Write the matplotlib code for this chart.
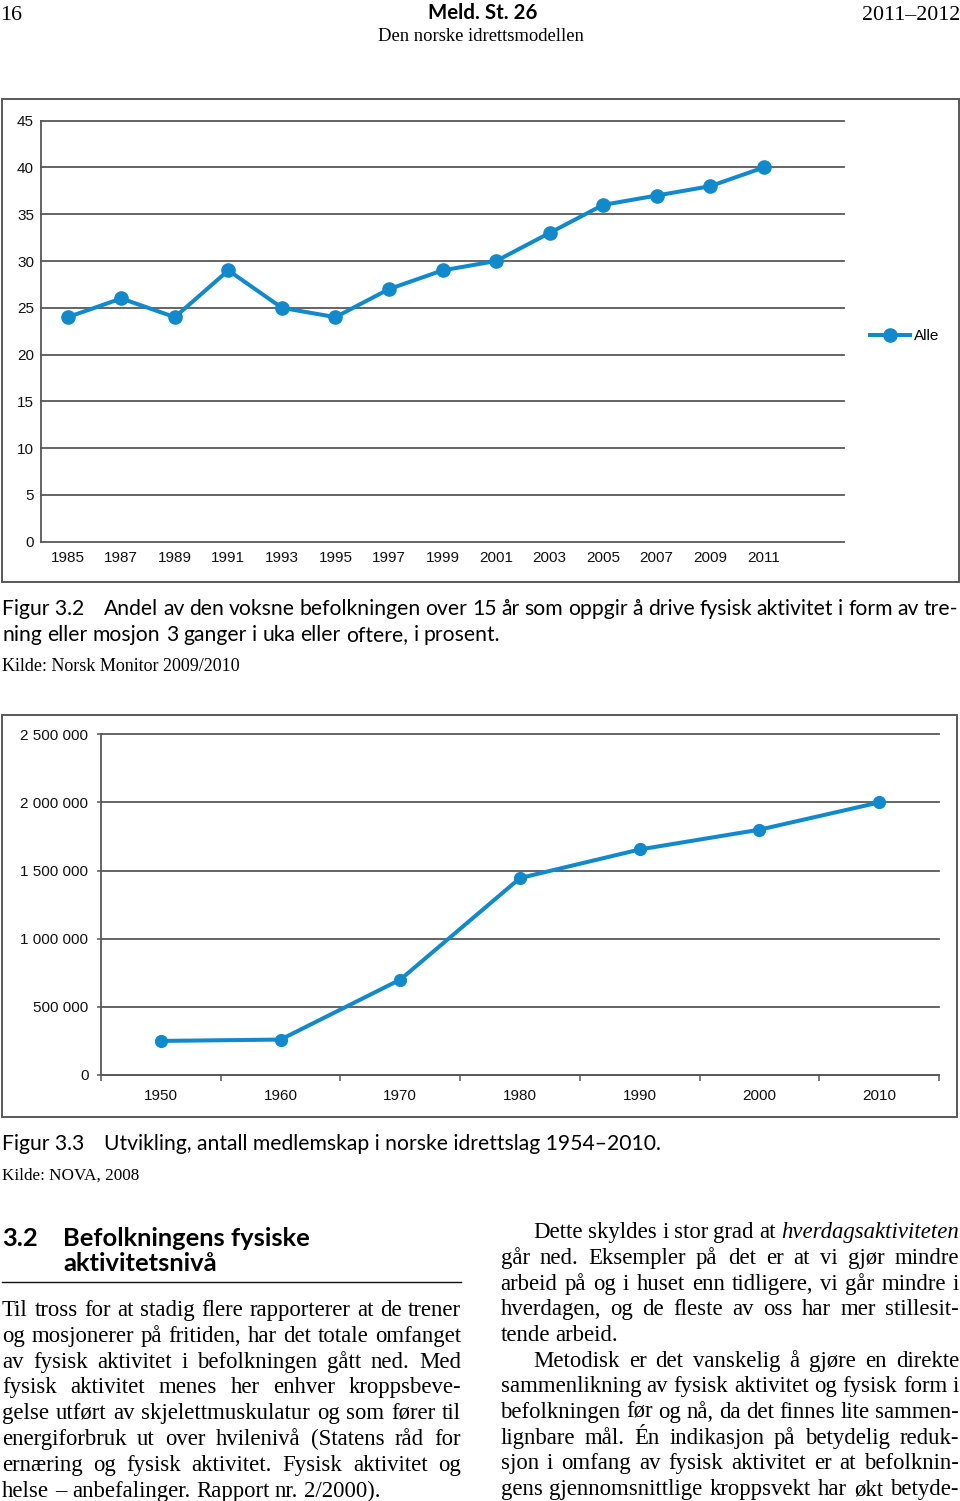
import matplotlib
matplotlib.use('Agg')
import matplotlib.pyplot as plt
from matplotlib.patches import Rectangle
from matplotlib.lines import Line2D
from matplotlib.ticker import FuncFormatter

W, H = 960, 1501

# figur 3.2 - andel fysisk aktive (prosent)
aar = ['1985', '1987', '1989', '1991', '1993', '1995', '1997',
       '1999', '2001', '2003', '2005', '2007', '2009', '2011']
andel = [24, 26, 24, 29, 25, 24, 27, 29, 30, 33, 36, 37, 38, 40]
andel_ticks = [0, 5, 10, 15, 20, 25, 30, 35, 40, 45]

# figur 3.3 - medlemskap i idrettslag
tiaar = ['1950', '1960', '1970', '1980', '1990', '2000', '2010']
medlemmer = [250000, 260000, 700000, 1445000, 1655000, 1800000, 2000000]
medlem_ticks = [0, 500000, 1000000, 1500000, 2000000, 2500000]

# brødtekst (linjer som i originalen)
venstre = [
    "Til tross for at stadig flere rapporterer at de trener",
    "og mosjonerer på fritiden, har det totale omfanget",
    "av fysisk aktivitet i befolkningen gått ned. Med",
    "fysisk aktivitet menes her enhver kroppsbeve-",
    "gelse utført av skjelettmuskulatur og som fører til",
    "energiforbruk ut over hvilenivå (Statens råd for",
    "ernæring og fysisk aktivitet. Fysisk aktivitet og",
    "helse – anbefalinger. Rapport nr. 2/2000).",
]
hoyre = [
    "Dette skyldes i stor grad at *hverdagsaktiviteten",
    "går ned. Eksempler på det er at vi gjør mindre",
    "arbeid på og i huset enn tidligere, vi går mindre i",
    "hverdagen, og de fleste av oss har mer stillesit-",
    "tende arbeid.",
    "Metodisk er det vanskelig å gjøre en direkte",
    "sammenlikning av fysisk aktivitet og fysisk form i",
    "befolkningen før og nå, da det finnes lite sammen-",
    "lignbare mål. Én indikasjon på betydelig reduk-",
    "sjon i omfang av fysisk aktivitet er at befolknin-",
    "gens gjennomsnittlige kroppsvekt har økt betyde-",
]
hoyre_innrykk = [0, 5]      # linjer med innrykk
hoyre_slutt = [4]           # siste linje i avsnitt (ikke blokkjustert)

BLA = '#1089cd'
GRA = '#585858'
SERIF = ['Liberation Serif', 'DejaVu Serif']
SANS = ['Lato', 'DejaVu Sans']
ARIAL = ['Liberation Sans', 'DejaVu Sans']

fig = plt.figure(figsize=(W / 100, H / 100), dpi=100)
r = fig.canvas.get_renderer()


def boks(x0, y0, x1, y1):  # piksler fra øvre venstre hjørne
    return [x0 / W, 1 - y1 / H, (x1 - x0) / W, (y1 - y0) / H]


def tekst(x, y, s, ha='left', **kw):
    return fig.text(x / W, 1 - y / H, s, ha=ha, va='baseline', **kw)


def bredde(t):
    return t.get_window_extent(renderer=r).width


def tilpass(x0, x1, y, s, ha='left', **kw):
    # finn skriftstørrelse slik at teksten blir x1-x0 bred
    t = tekst(x0 if ha == 'left' else (x0 + x1) / 2 if ha == 'center' else x1,
              y, s, ha=ha, fontsize=10, **kw)
    size = 10 * (x1 - x0) / bredde(t)
    t.set_fontsize(size)
    return t, size


def linje(x0, x1, y, s, size, family, just=True):
    ord_ = s.split()
    ts = []
    for w in ord_:
        st = 'normal'
        if w.startswith('*'):
            w, st = w[1:], 'italic'
        ts.append(tekst(0, y, w, fontsize=size, family=family, style=st))
    bs = [bredde(t) for t in ts]
    em = size * 100 / 72
    mellom = 0.25 * em
    if just and len(ts) > 1:
        mellom = (x1 - x0 - sum(bs)) / (len(ts) - 1)
        if mellom < 0.15 * em:   # for trangt: krymp litt
            f = (x1 - x0) / (sum(bs) + (len(ts) - 1) * 0.15 * em)
            for t in ts:
                t.set_fontsize(size * f)
            bs = [bredde(t) for t in ts]
            mellom = (x1 - x0 - sum(bs)) / (len(ts) - 1)
    x = x0
    for t, b in zip(ts, bs):
        t.set_x(x / W)
        x += b + mellom


# ---------- topptekst ----------
tilpass(0, 22, 20, '16', family=SERIF)
tilpass(428, 538, 19, 'Meld. St. 26', ha='center', family=SANS, weight='bold')
tilpass(862, 960, 20, '2011–2012', ha='right', family=SERIF)
tilpass(378, 584, 41, 'Den norske idrettsmodellen', ha='center', family=SERIF)

# ---------- figur 3.2 ----------
fig.add_artist(Rectangle((2 / W, 1 - 582.5 / H), 956.5 / W, 483.5 / H,
                         transform=fig.transFigure, fill=False,
                         edgecolor=GRA, lw=1.4))
ax1 = fig.add_axes(boks(41, 120.7, 844, 541.7))
x1 = list(range(len(aar)))
ax1.plot(x1, andel, color=BLA, lw=2.9, marker='o', ms=9.5, label='Alle',
         solid_joinstyle='round', zorder=3)
ax1.set_xlim(-0.5, 14.5)
ax1.set_ylim(0, 45)
ax1.set_yticks(andel_ticks)
ax1.set_xticks(x1, aar)
ax1.yaxis.grid(True, color=GRA, lw=1.3)
for g in ax1.get_ygridlines():
    g.set_clip_on(False)
ax1.set_axisbelow(True)
for s in ['top', 'right', 'bottom']:
    ax1.spines[s].set_visible(False)
ax1.spines['left'].set_color(GRA)
ax1.spines['left'].set_linewidth(1.3)
ax1.tick_params(length=0, labelsize=11, labelcolor='#111111')
ax1.tick_params(axis='y', pad=5)
ax1.tick_params(axis='x', pad=7)
for lab in ax1.get_xticklabels() + ax1.get_yticklabels():
    lab.set_family(ARIAL)
ax1.legend(loc='center left', bbox_to_anchor=(870 / W, 1 - 336 / H),
           bbox_transform=fig.transFigure, frameon=False, handlelength=2.6,
           handletextpad=0.3, borderpad=0, borderaxespad=0,
           prop={'family': ARIAL, 'size': 11})

# ---------- figurtekst 3.2 ----------
t, cap = tilpass(104, 660, 1150, 'Utvikling, antall medlemskap i norske idrettslag 1954–2010.',
                 family=SANS)
tekst(2, 615, 'Figur 3.2', fontsize=cap, family=SANS)
linje(104, 958, 615, 'Andel av den voksne befolkningen over 15 år som oppgir å drive fysisk aktivitet i form av tre-',
      cap, SANS)
linje(2, 958, 641, 'ning eller mosjon 3 ganger i uka eller oftere, i prosent.', cap, SANS, just=False)
tilpass(2, 240, 671, 'Kilde: Norsk Monitor 2009/2010', family=SERIF)

# ---------- figur 3.3 ----------
fig.add_artist(Rectangle((2 / W, 1 - 1116.7 / H), 955 / W, 402 / H,
                         transform=fig.transFigure, fill=False,
                         edgecolor=GRA, lw=1.4))
ax2 = fig.add_axes(boks(101, 734.3, 939, 1075))
x2 = list(range(len(tiaar)))
ax2.plot(x2, medlemmer, color=BLA, lw=2.9, marker='o', ms=8.5,
         solid_joinstyle='round', zorder=3)
ax2.set_xlim(-0.5, len(tiaar) - 0.5)
ax2.set_ylim(0, 2500000)
ax2.set_yticks(medlem_ticks)
ax2.yaxis.set_major_formatter(FuncFormatter(lambda v, p: f'{int(v):,}'.replace(',', ' ')))
ax2.set_xticks(x2, tiaar)
ax2.set_xticks([i - 0.5 for i in range(len(tiaar) + 1)], minor=True)
ax2.yaxis.grid(True, color=GRA, lw=1.3)
for g in ax2.get_ygridlines():
    g.set_clip_on(False)
ax2.set_axisbelow(True)
for s in ['top', 'right']:
    ax2.spines[s].set_visible(False)
for s in ['left', 'bottom']:
    ax2.spines[s].set_color(GRA)
    ax2.spines[s].set_linewidth(1.3)
ax2.tick_params(axis='x', which='major', length=0, pad=10)
ax2.tick_params(axis='x', which='minor', length=4, width=1.1, color=GRA)
ax2.tick_params(axis='y', length=3, width=1.1, color=GRA, pad=6)
ax2.tick_params(labelsize=11, labelcolor='#111111')
for lab in ax2.get_xticklabels() + ax2.get_yticklabels():
    lab.set_family(ARIAL)

tekst(2, 1150, 'Figur 3.3', fontsize=cap, family=SANS)
tilpass(2, 139, 1180, 'Kilde: NOVA, 2008', family=SERIF)

# ---------- kapittel 3.2 ----------
t, hs = tilpass(63, 311, 1245.7, 'Befolkningens fysiske', family=SANS, weight='bold')
tekst(2, 1245.7, '3.2', fontsize=hs, family=SANS, weight='bold')
tekst(63, 1271, 'aktivitetsnivå', fontsize=hs, family=SANS, weight='bold')
fig.add_artist(Line2D([2 / W, 461 / W], [1 - 1282.3 / H] * 2,
                      transform=fig.transFigure, color='#111111', lw=1.0))

t, bs = tilpass(2, 380, 2000, venstre[-1], family=SERIF)
t.remove()
for i, s in enumerate(venstre):
    linje(2, 461, 1316 + 25.8 * i, s, bs, SERIF, just=(i < len(venstre) - 1))
for i, s in enumerate(hoyre):
    x0 = 533 if i in hoyre_innrykk else 500.5
    linje(x0, 959, 1238.3 + 25.67 * i, s, bs, SERIF, just=(i not in hoyre_slutt))

fig.savefig('out.png', dpi=100)
